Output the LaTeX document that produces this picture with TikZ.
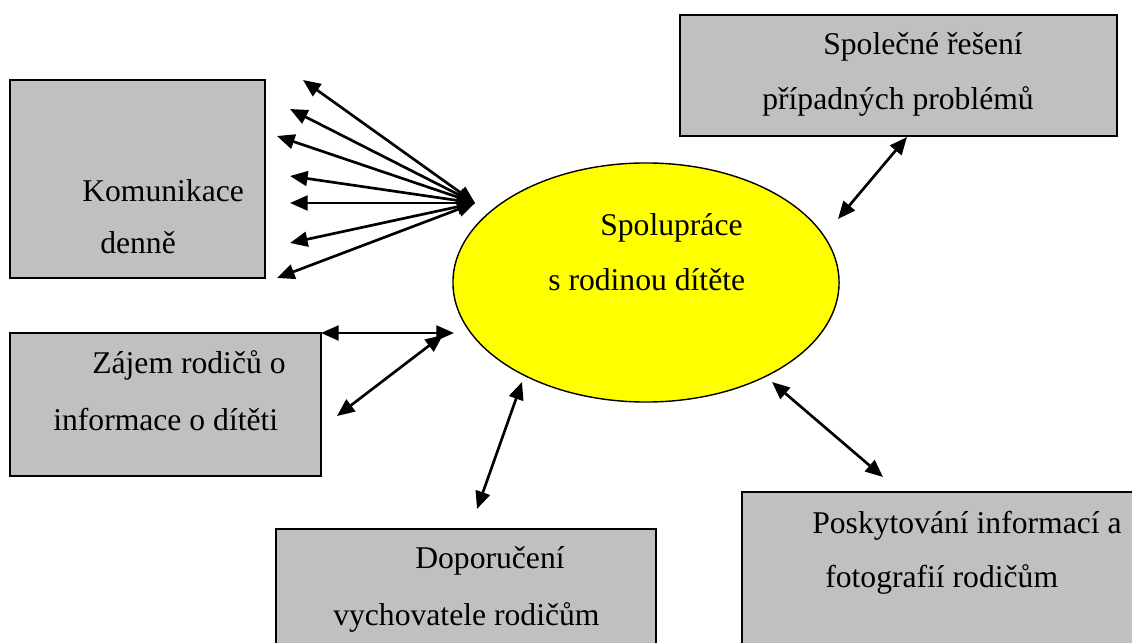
\documentclass[tikz,border=0pt]{standalone}
\usepackage{fontspec}
\setmainfont{Liberation Serif}
\usetikzlibrary{
	shapes.geometric,
	arrows.meta,
	fit}
\definecolor{boxgray}{HTML}{C0C0C0}
\definecolor{ellyellow}{RGB}{255,255,0}

\begin{document}
\begin{tikzpicture}[x=0.025cm,y=-0.025cm,
  box/.style={draw,line width=1pt,fill=boxgray,inner sep=0pt},
  ell/.style={ellipse,draw,line width=1pt,fill=ellyellow,inner sep=0pt},
  txt/.style={anchor=base west,inner sep=0pt,font=\fontsize{22.5}{27}\selectfont},
  link/.style={<->,>={Triangle[length=12.5pt,width=10.5pt]},line width=1.9pt}]
  \useasboundingbox (0,0) rectangle (1132,643);
  \clip (0,0) rectangle (1132,643);

    % Boxes
  \node[box,fit={(10,80) (265,278)}] (KB) {};
  \node[box,fit={(10,333) (321,476)}] (ZB) {};
  \node[box,fit={(276,529) (656,660)}] (DB) {};
  \node[box,fit={(680,15) (1117,136)}] (SB) {};
  \node[box,fit={(742,492) (1150,660)}] (PB) {};
  \node[ell,minimum width=9.65cm,minimum height=5.975cm] (E0) at (646,282.5) {};

    % Texts
  \node[txt] (K1) at (82,202) {Komunikace};
  \node[txt] (K2) at (100,253) {denně};
  \node[txt] (E1) at (600,235) {Spolupráce};
  \node[txt] (E2) at (548,290) {s rodinou dítěte};
  \node[txt] (Z1) at (92,373) {Zájem rodičů o};
  \node[txt] (Z2) at (53,430) {informace o dítěti};
  \node[txt] (S1) at (823,55) {Společné řešení};
  \node[txt] (S2) at (762,110) {případných problémů};
  \node[txt] (P1) at (812,533) {Poskytování informací a};
  \node[txt] (P2) at (825,587) {fotografií rodičům};
  \node[txt] (D1) at (415,568) {Doporučení};
  \node[txt] (D2) at (333,625) {vychovatele rodičům};

    % Arrow ends
  \coordinate (h)  at (475,203);
  \coordinate (f1) at (303,80);
  \coordinate (f2) at (290,109);
  \coordinate (f3) at (277,136);
  \coordinate (f4) at (290,176);
  \coordinate (f5) at (290,203);
  \coordinate (f6) at (290,243);
  \coordinate (f7) at (277,278);
  \coordinate (a1) at (321,333);
  \coordinate (a2) at (454,333);
  \coordinate (b1) at (337,416);
  \coordinate (b2) at (443,335);
  \coordinate (c1) at (522,382);
  \coordinate (c2) at (477,509);
  \coordinate (d1) at (907,137);
  \coordinate (d2) at (838,219);
  \coordinate (e1) at (772,382);
  \coordinate (e2) at (883,477);

  \draw [link] (h)  to (f1);
  \draw [link] (h)  to (f2);
  \draw [link] (h)  to (f3);
  \draw [link] (h)  to (f4);
  \draw [link] (h)  to (f5);
  \draw [link] (h)  to (f6);
  \draw [link] (h)  to (f7);
  \draw [link] (a1) to (a2);
  \draw [link] (b1) to (b2);
  \draw [link] (c1) to (c2);
  \draw [link] (d1) to (d2);
  \draw [link] (e1) to (e2);

\end{tikzpicture}
\end{document}
